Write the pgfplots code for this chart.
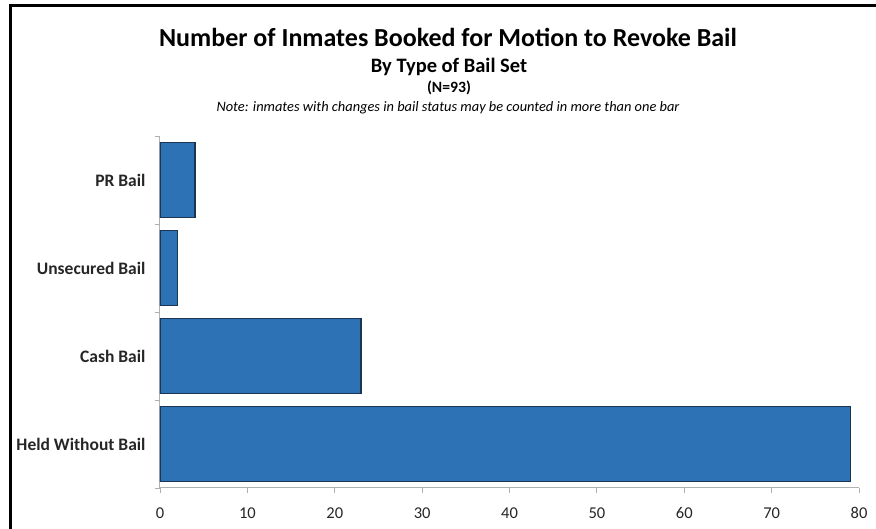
\documentclass[border=0pt]{standalone}
\usepackage{pgfplots}
\pgfplotsset{compat=1.18}
\usepackage{fontspec}
\setmainfont{Carlito}

\definecolor{barblue}{HTML}{2C72B5}
\definecolor{baredge}{HTML}{1C3550}
\definecolor{axgray}{HTML}{B0B0B0}

\begin{document}
\begin{tikzpicture}[x=1pt,y=1pt]
% canvas 876 x 529 (1px = 1pt), origin at bottom left
\useasboundingbox (0,0) rectangle (876,529);
\fill[white] (0,0) rectangle (876,529);
\draw[black,line width=3pt] (10,0) -- (10,523) -- (876,523);

\node[anchor=base,font=\fontsize{26}{30}\selectfont\bfseries] at (448,482) {Number of Inmates Booked for Motion to Revoke Bail};
\node[anchor=base,font=\fontsize{20.5}{24}\selectfont\bfseries] at (449,456) {By Type of Bail Set};
\node[anchor=base,font=\fontsize{15.7}{18}\selectfont\bfseries] at (449,436) {(N=93)};
\node[anchor=base,font=\fontsize{14.4}{17}\selectfont\itshape] at (448,417) {Note: inmates with changes in bail status may be counted in more than one bar};

\begin{axis}[
    at={(160pt,41pt)}, anchor=south west,
    scale only axis,
    width=699pt, height=352pt,
    xbar,
    bar width=0.85,
    xmin=0, xmax=80,
    ymin=-0.5, ymax=3.5,
    xtick={0,10,...,80},
    ytick={0,1,2,3},
    yticklabels={Held Without Bail,Cash Bail,Unsecured Bail,PR Bail},
    minor ytick={-0.5,0.5,1.5,2.5,3.5},
    axis lines*=left,
    axis line style={axgray,line width=1pt},
    every tick/.style={axgray,line width=0.8pt},
    major y tick style={draw=none},
    minor tick length=5pt,
    major tick length=5pt,
    xtick align=outside,
    ytick align=outside,
    tick label style={text=black!85},
    xticklabel style={font=\fontsize{16.5}{19}\selectfont, yshift=-11pt},
    yticklabel style={font=\fontsize{17.5}{20}\selectfont\bfseries, xshift=-6pt},
    /pgf/number format/assume math mode=true,
]
\addplot[fill=barblue, draw=baredge, line width=1.2pt]
    coordinates {(79,0) (23,1) (2,2) (4,3)};
\end{axis}
\end{tikzpicture}
\end{document}
